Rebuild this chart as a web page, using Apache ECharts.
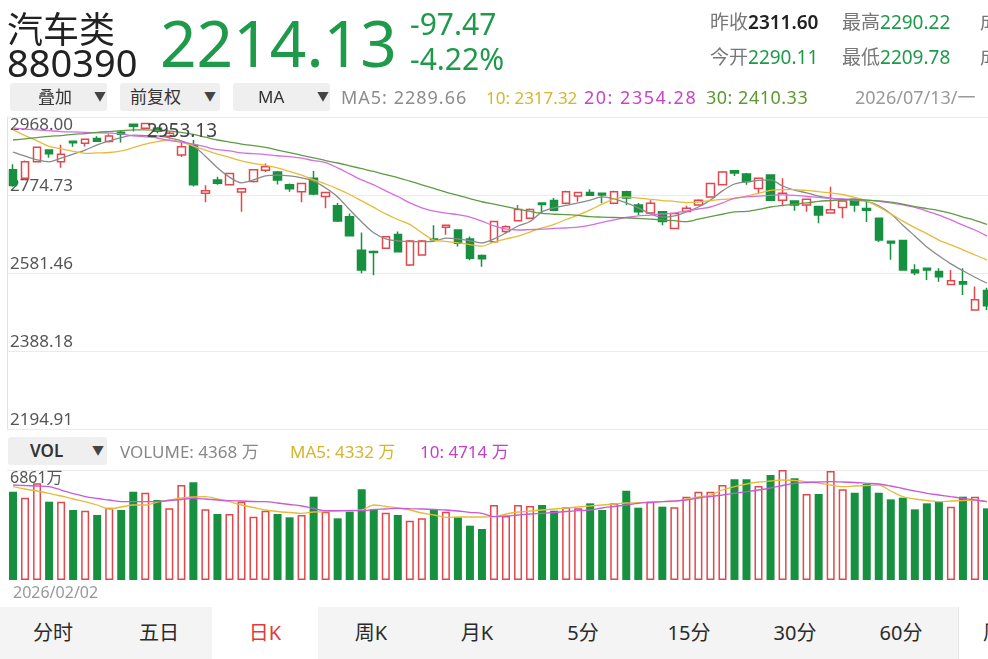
<!DOCTYPE html>
<html lang="zh">
<head>
  <meta charset="utf-8">
  <title>汽车类 880390 日K</title>
  <script src="https://cdn.jsdelivr.net/npm/echarts@6/dist/echarts.min.js"></script>
  <style>
    html, body { margin: 0; height: 100%; background: #fff; overflow: hidden; }
    #page { position: relative; width: 988px; height: 659px; overflow: hidden;
            font-family: "Noto Sans", "Noto Sans CJK SC", sans-serif; }
    #chart { position: absolute; left: 0; top: 0; width: 1000px; height: 659px; }
    .t { position: absolute; white-space: nowrap; line-height: 1; z-index: 2; }
    .btn { position: absolute; height: 28px; background: #efefef; border-radius: 3px; z-index: 2; }
    .btn span { position: absolute; top: 0; line-height: 28px; font-size: 17px; color: #333; }
    .btn i { position: absolute; top: 0; line-height: 28px; font-size: 12px; color: #444; font-style: normal; }
    #tabs { position: absolute; left: 0; top: 607px; width: 988px; height: 52px; background: #f4f4f4; z-index: 2; }
    #tabs div { position: absolute; top: 0; width: 106px; height: 52px; line-height: 52px;
                text-align: center; font-size: 20px; color: #2a2a2a; }
  </style>
</head>
<body>
<div id="page">
  <div id="chart"></div>

  <!-- header -->
  <div class="t" style="left:7px;top:9px;font-size:36px;color:#222;font-family:'Noto Sans CJK SC'">汽车类</div>
  <div class="t" style="left:7px;top:43px;font-size:38px;color:#222">880390</div>
  <div class="t" style="left:160px;top:11px;font-size:64px;color:#1f9a4b">2214.13</div>
  <div class="t" style="left:410px;top:9px;font-size:30px;color:#1f9a4b">-97.47</div>
  <div class="t" style="left:410px;top:44px;font-size:30px;color:#1f9a4b">-4.22%</div>

  <div class="t" style="left:710px;top:13px;font-size:19px;color:#777">昨收<span style="color:#222;font-weight:600">2311.60</span></div>
  <div class="t" style="left:842px;top:13px;font-size:19px;color:#777">最高<span style="color:#1f9a4b">2290.22</span></div>
  <div class="t" style="left:980px;top:13px;font-size:19px;color:#777">成交</div>
  <div class="t" style="left:710px;top:48px;font-size:19px;color:#777">今开<span style="color:#1f9a4b">2290.11</span></div>
  <div class="t" style="left:842px;top:48px;font-size:19px;color:#777">最低<span style="color:#1f9a4b">2209.78</span></div>
  <div class="t" style="left:980px;top:48px;font-size:19px;color:#777">成交</div>

  <!-- toolbar -->
  <div class="btn" style="left:10px;top:83px;width:97px"><span style="left:28px">叠加</span><i style="left:84px">▼</i></div>
  <div class="btn" style="left:120px;top:83px;width:100px"><span style="left:10px">前复权</span><i style="left:84px">▼</i></div>
  <div class="btn" style="left:233px;top:83px;width:97px"><span style="left:25px">MA</span><i style="left:84px">▼</i></div>
  <div class="t" style="left:341px;top:88px;font-size:18px;letter-spacing:1px;color:#8c8c8c">MA5: 2289.66</div>
  <div class="t" style="left:486px;top:89px;font-size:17px;color:#d6b52c">10: 2317.32</div>
  <div class="t" style="left:584px;top:88px;font-size:18px;letter-spacing:1.5px;color:#c944c9">20: 2354.28</div>
  <div class="t" style="left:706px;top:88px;font-size:18px;letter-spacing:0.5px;color:#5b9a2e">30: 2410.33</div>
  <div class="t" style="left:855px;top:88px;font-size:18px;color:#999">2026/07/13/一</div>

  <!-- volume header -->
  <div class="btn" style="left:8px;top:437px;width:99px"><span style="left:22px;font-weight:600">VOL</span><i style="left:84px">▼</i></div>
  <div class="t" style="left:120px;top:443px;font-size:17px;color:#888">VOLUME: 4368 万</div>
  <div class="t" style="left:290px;top:443px;font-size:17px;color:#d6b52c">MA5: 4332 万</div>
  <div class="t" style="left:420px;top:443px;font-size:17px;color:#c040c8">10: 4714 万</div>

  <!-- period tabs -->
  <div id="tabs">
    <div style="left:0">分时</div>
    <div style="left:106px">五日</div>
    <div style="left:212px;background:#fff;color:#e03a3a">日K</div>
    <div style="left:318px">周K</div>
    <div style="left:424px">月K</div>
    <div style="left:530px">5分</div>
    <div style="left:636px">15分</div>
    <div style="left:742px">30分</div>
    <div style="left:848px">60分</div>
    <div style="left:958px;background:#fff;border-left:1px solid #e6e6e6;text-align:left;padding-left:24px">周</div>
  </div>
</div>

<script type="text/javascript">
// daily candles
var opens  = [2837,2816,2857,2886,2857,2908,2903,2915,2907,2930,
              2950,2940,2940,2920,2874,2898,2779,2812,2800,2782,
              2808,2836,2832,2800,2783,2816,2771,2748,2721,2638,
              2635,2643,2677,2601,2626,2666,2695,2688,2666,2625,
              2659,2684,2711,2717,2755,2761,2754,2772,2781,2779,
              2754,2783,2750,2730,2733,2692,2734,2750,2770,2800,
              2835,2827,2791,2824,2762,2760,2750,2746,2730,2744,
              2764,2741,2717,2660,2662,2589,2593,2585,2553,2560,
              2490,2538];
var closes = [2798,2857,2893,2877,2876,2904,2913,2908,2921,2925,
              2945,2952,2933,2928,2894,2800,2785,2804,2828,2790,
              2837,2845,2812,2790,2803,2777,2781,2710,2674,2589,
              2632,2671,2634,2661,2661,2664,2700,2655,2618,2617,
              2709,2696,2739,2739,2751,2737,2783,2781,2774,2775,
              2783,2767,2733,2754,2709,2729,2742,2762,2803,2832,
              2829,2808,2816,2762,2779,2750,2764,2725,2738,2760,
              2750,2737,2663,2656,2589,2582,2589,2572,2562,2554,
              2515,2500];
var lows   = [2795,2812,2855,2867,2842,2894,2895,2906,2905,2905,
              2932,2938,2928,2915,2869,2796,2757,2800,2798,2733,
              2806,2832,2801,2783,2757,2774,2742,2708,2672,2581,
              2576,2641,2632,2599,2624,2660,2676,2647,2613,2597,
              2657,2680,2709,2715,2730,2735,2752,2758,2772,2754,
              2752,2750,2725,2728,2700,2690,2732,2748,2768,2798,
              2822,2800,2779,2760,2747,2736,2733,2705,2728,2717,
              2733,2708,2658,2614,2587,2576,2564,2560,2551,2527,
              2488,2490];
var highs  = [2851,2860,2895,2888,2899,2909,2914,2920,2925,2935,
              2951,2953.13,2943,2932,2908,2911,2799,2820,2830,2791,
              2839,2853,2834,2803,2805,2834,2782,2755,2729,2682,
              2637,2673,2684,2663,2663,2700,2701,2690,2672,2627,
              2711,2700,2750,2741,2756,2767,2785,2782,2789,2780,
              2785,2785,2755,2762,2735,2731,2748,2764,2805,2834,
              2836,2829,2818,2826,2816,2762,2766,2748,2795,2762,
              2766,2762,2719,2661,2664,2603,2594,2593,2589,2593,
              2548,2545];

// moving average lines as drawn
var ma5  = [2881,2871,2862,2857,2866,2876,2886,2899,2909,2917,
            2923,2922,2921,2916,2909,2896,2871,2842,2819,2805,
            2812,2822,2824,2822,2817,2809,2792,2770,2738,2708,
            2681,2666,2661,2659,2659,2660,2668,2666,2661,2656,
            2666,2681,2698,2709,2733,2743,2749,2755,2762,2770,
            2765,2755,2743,2728,2720,2723,2733,2745,2762,2785,
            2802,2807,2811,2812,2797,2787,2780,2772,2767,2764,
            2761,2759,2748,2728,2700,2673,2646,2624,2604,2587,
            2571,2556];
var ma10 = [2936,2922,2909,2895,2889,2883,2878,2879,2880,2884,
            2892,2901,2907,2911,2906,2896,2886,2876,2868,2859,
            2853,2848,2842,2833,2824,2812,2802,2790,2776,2760,
            2744,2728,2714,2702,2681,2663,2660,2656,2652,2648,
            2658,2666,2673,2683,2693,2702,2714,2725,2738,2752,
            2765,2770,2767,2764,2761,2759,2756,2757,2761,2764,
            2766,2772,2779,2786,2788,2788,2786,2783,2780,2776,
            2769,2760,2745,2728,2710,2694,2679,2663,2651,2639,
            2626,2614];
var ma20 = [2941,2938,2936,2934,2932,2931,2930,2929,2928,2926,
            2921,2919,2916,2910,2906,2901,2894,2887,2884,2879,
            2877,2875,2872,2870,2866,2860,2855,2842,2827,2812,
            2800,2785,2771,2755,2743,2735,2730,2726,2720,2710,
            2698,2690,2688,2689,2690,2692,2693,2695,2700,2707,
            2713,2719,2723,2725,2728,2730,2735,2740,2745,2755,
            2767,2770,2772,2774,2775,2774,2771,2769,2766,2765,
            2764,2762,2759,2755,2750,2744,2735,2725,2713,2700,
            2688,2673];
var ma30 = [2911,2914,2917,2920,2922,2925,2927,2930,2932,2934,
            2936,2936,2935,2933,2930,2925,2918,2911,2906,2901,
            2897,2893,2886,2880,2873,2867,2860,2854,2847,2840,
            2833,2825,2818,2809,2800,2791,2782,2774,2766,2758,
            2752,2746,2740,2734,2729,2727,2726,2724,2721,2720,
            2719,2718,2717,2715,2713,2711,2709,2715,2721,2727,
            2733,2734,2739,2745,2749,2752,2755,2759,2761,2763,
            2764,2762,2760,2757,2752,2746,2741,2736,2729,2720,
            2712,2702];

// volume, 万
var volumes = [5508,5134,6030,4884,4884,4366,4324,4054,4511,4366,
               5508,5446,4990,4470,5925,6092,4407,4116,4116,4884,
               3950,4324,4116,3909,4054,5197,4262,3846,4262,5654,
               4407,4199,4054,3701,3846,4407,4262,3909,3389,3181,
               4678,3992,4678,4615,4678,4324,4532,4470,4781,4366,
               4781,5571,4511,4884,4574,4532,5197,5508,5508,5925,
               6279,6279,5863,6549,6861,6342,5364,5364,6800,5654,
               5446,5988,5446,5030,5134,4407,4781,4884,4574,5197,
               5197,4470];
var volMa5  = [5819,5676,5551,5408,5239,5052,4884,4678,4428,4553,
               4678,4678,4865,4990,5114,5177,5195,5052,4884,4678,
               4522,4366,4272,4210,4160,4241,4260,4304,4335,4366,
               4678,4584,4491,4366,4179,4054,3911,3929,3929,3929,
               3948,4116,4241,4304,4366,4428,4491,4553,4615,4678,
               4740,4802,4821,4865,4884,4884,5052,5177,5301,5613,
               5819,5988,6112,6175,6237,6206,6131,6050,5925,5819,
               5863,5894,5925,5551,5195,5052,4958,4884,4927,4958,
               4990,4884];
var volMa10 = [5925,5894,5863,5819,5613,5395,5195,5083,4990,4884,
               4884,4884,4884,4958,5021,5096,5052,4990,4946,4927,
               4896,4884,4802,4709,4615,4459,4322,4322,4322,4322,
               4397,4428,4472,4447,4428,4397,4366,4304,4222,4160,
               3948,3992,4054,4116,4160,4210,4272,4322,4366,4491,
               4584,4678,4784,4834,4884,4940,4990,5114,5208,5301,
               5408,5507,5613,5738,5894,6031,6081,6112,6131,6112,
               6081,6031,5988,5863,5707,5551,5408,5301,5195,5096,
               4990,4884];

// axis ends
var priceMin = 2194.91, priceMax = 2968.00;
var volMax = 6861;

// trading days from 2026/02/02
var dates = [];
(function () {
  var d = new Date(2026, 1, 2);
  while (dates.length < opens.length) {
    var w = d.getDay();
    if (w > 0 && w < 6) {
      var m = d.getMonth() + 1, dd = d.getDate();
      dates.push(d.getFullYear() + '/' + (m < 10 ? '0' : '') + m + '/' + (dd < 10 ? '0' : '') + dd);
    }
    d.setDate(d.getDate() + 1);
  }
})();

var RED = '#e2474b', GREEN = '#17913f';
var FONT = '"Noto Sans", "Noto Sans CJK SC", sans-serif';

function fmt2(v) { return (Math.round(v * 100 + 0.001) / 100).toFixed(2); }

var candles = opens.map(function (o, i) { return [o, closes[i], lows[i], highs[i]]; });
var volBars = volumes.map(function (v, i) {
  var up = closes[i] >= opens[i];
  return {
    value: v,
    itemStyle: up ? { color: '#fff', borderColor: RED, borderWidth: 1.5 } : { color: GREEN }
  };
});

var chart = echarts.init(document.getElementById('chart'), null, { renderer: 'canvas' });
var step = (priceMax - priceMin) / 4;

function maLine(name, data, color, xi) {
  return {
    name: name, type: 'line', data: data, xAxisIndex: xi, yAxisIndex: xi === 0 ? 0 : 2,
    symbol: 'none', smooth: 0.3, silent: true,
    lineStyle: { color: color, width: 1.3 }
  };
}

chart.setOption({
  animation: false,
  backgroundColor: 'transparent',
  textStyle: { fontFamily: FONT },
  grid: [
    { left: 7, right: 7, top: 117, height: 312 },
    { left: 7, right: 7, top: 470, height: 110 }
  ],
  xAxis: [
    { type: 'category', gridIndex: 0, data: dates, boundaryGap: true,
      axisLine: { show: false }, axisTick: { show: false }, axisLabel: { show: false },
      splitLine: { show: false } },
    { type: 'category', gridIndex: 1, data: dates, boundaryGap: true,
      axisLine: { show: false }, axisTick: { show: false }, splitLine: { show: false },
      axisLabel: { show: true, interval: function (i) { return i === 0; },
                   align: 'left', color: '#999', fontSize: 16, margin: 5, fontFamily: FONT } }
  ],
  yAxis: [
    { type: 'value', gridIndex: 0, min: priceMin, max: priceMax, interval: step, position: 'left',
      axisLine: { show: true, lineStyle: { color: '#e2e2e2' } }, axisTick: { show: false },
      splitLine: { lineStyle: { color: '#ebebeb' } },
      axisLabel: { inside: true, verticalAlign: 'bottom', margin: 3, color: '#555', fontSize: 17,
                   fontFamily: FONT,
                   formatter: function (v) { return Math.abs(v - priceMax) < 0.01 ? '' : fmt2(v); } } },
    { type: 'value', gridIndex: 0, min: priceMin, max: priceMax, interval: step, position: 'left',
      axisLine: { show: false }, axisTick: { show: false }, splitLine: { show: false },
      axisLabel: { inside: true, verticalAlign: 'top', margin: 3, color: '#555', fontSize: 17,
                   fontFamily: FONT,
                   formatter: function (v) { return Math.abs(v - priceMax) < 0.01 ? fmt2(v) : ''; } } },
    { type: 'value', gridIndex: 1, min: 0, max: volMax, interval: volMax, position: 'left',
      axisLine: { show: false }, axisTick: { show: false },
      splitLine: { lineStyle: { color: ['rgba(0,0,0,0)', '#ebebeb'] } },
      axisLabel: { inside: true, verticalAlign: 'top', margin: 3, color: '#555', fontSize: 16,
                   fontFamily: FONT,
                   formatter: function (v) { return v > 0 ? v + '万' : ''; } } }
  ],
  series: [
    { name: '日K', type: 'candlestick', data: candles, xAxisIndex: 0, yAxisIndex: 0,
      barWidth: 8,
      itemStyle: { color: '#fff', color0: GREEN, borderColor: RED, borderColor0: GREEN, borderWidth: 1.5 },
      markPoint: {
        symbol: 'rect', symbolSize: 1, itemStyle: { color: 'rgba(0,0,0,0)' },
        label: { show: true, position: 'right', distance: 1, offset: [0, 9], color: '#444',
                 fontSize: 19, fontFamily: FONT,
                 formatter: function (p) { return fmt2(Number(p.value)); } },
        data: [{ type: 'max', valueDim: 'highest' }]
      } },
    maLine('MA5', ma5, '#8a8a8a', 0),
    maLine('MA10', ma10, '#e6bb3a', 0),
    maLine('MA20', ma20, '#d56ee0', 0),
    maLine('MA30', ma30, '#5f9c45', 0),
    { name: 'VOL', type: 'bar', data: volBars, xAxisIndex: 1, yAxisIndex: 2, barWidth: 8 },
    maLine('VMA5', volMa5, '#e6bb3a', 1),
    maLine('VMA10', volMa10, '#c85ad8', 1)
  ]
});
</script>
</body>
</html>
